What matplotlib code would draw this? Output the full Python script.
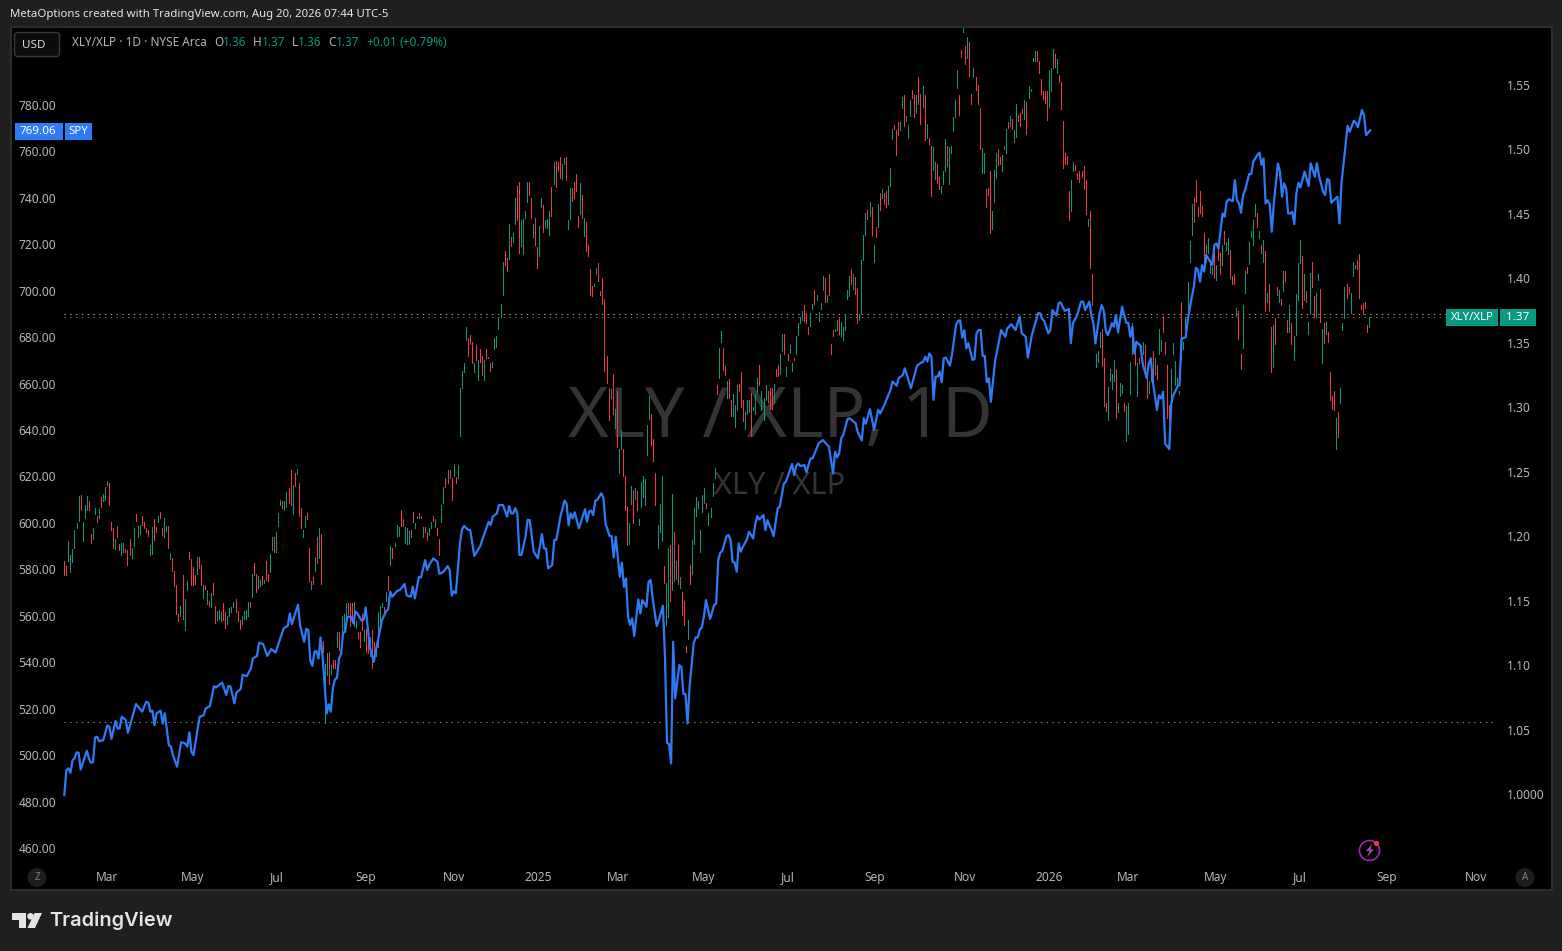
import numpy as np
import matplotlib
matplotlib.use("Agg")
import matplotlib.pyplot as plt
from matplotlib.patches import Rectangle, FancyBboxPatch, Circle, Polygon

# XLY/XLP daily bars as (open, close)
xly_part1 = [(1.181,1.170),(1.177,1.170),(1.181,1.196),(1.172,1.185),(1.180,1.190),(1.191,1.205),(1.206,1.210),(1.212,1.231),(1.232,1.220),(1.196,1.211),
(1.214,1.224),(1.220,1.231),(1.227,1.220),(1.202,1.195),(1.198,1.206),(1.217,1.222),(1.216,1.211),(1.214,1.221),(1.230,1.223),(1.227,1.233),
(1.228,1.238),(1.240,1.243),(1.241,1.224),(1.211,1.205),(1.206,1.191),(1.190,1.198),(1.208,1.199),(1.194,1.189),(1.185,1.195),(1.188,1.195),
(1.190,1.188),(1.189,1.178),(1.198,1.185),(1.183,1.191),(1.192,1.206),(1.217,1.212),(1.199,1.208),(1.202,1.209),(1.216,1.209),(1.211,1.206),
(1.206,1.203),(1.205,1.200),(1.185,1.193),(1.186,1.207),(1.213,1.197),(1.207,1.203),(1.211,1.216),(1.219,1.214),(1.206,1.201),(1.199,1.214),
(1.204,1.208),(1.208,1.191),(1.182,1.187),(1.183,1.173),(1.173,1.161),(1.162,1.140),(1.140,1.134),(1.138,1.146),(1.170,1.136),(1.127,1.151),
(1.158,1.165),(1.188,1.182),(1.182,1.162),(1.176,1.162),(1.170,1.163),(1.171,1.184),(1.184,1.175),(1.178,1.162),(1.152,1.162),(1.162,1.159),
(1.147,1.158),(1.150,1.146),(1.145,1.156),(1.164,1.154),(1.146,1.133),(1.135,1.142),(1.136,1.143),(1.134,1.141),(1.148,1.135),(1.141,1.129),
(1.132,1.138),(1.138,1.144),(1.141,1.145),(1.145,1.149),(1.151,1.141),(1.142,1.134),(1.135,1.128),(1.132,1.138),(1.136,1.142),(1.136,1.143),
(1.138,1.149),(1.149,1.145),(1.153,1.171),(1.179,1.170),(1.171,1.157),(1.160,1.169),(1.161,1.166),(1.169,1.163),(1.164,1.166),(1.181,1.166),
(1.171,1.165),(1.172,1.186),(1.189,1.199),(1.199,1.188),(1.188,1.203),(1.208,1.218),(1.224,1.228),(1.227,1.222),(1.220,1.227),(1.223,1.234),
(1.237,1.226),(1.251,1.224),(1.217,1.240),(1.249,1.239),(1.248,1.252),(1.241,1.216),(1.222,1.206),(1.199,1.205),(1.207,1.216),(1.218,1.213),
(1.191,1.165),(1.159,1.165),(1.168,1.163),(1.173,1.184),(1.199,1.179),(1.183,1.206),(1.202,1.163)]
xly_part2 = [(1.119,1.110),(1.055,1.101),(1.092,1.109),(1.110,1.085),(1.093,1.100),(1.104,1.098),(1.104,1.098),(1.114,1.126),(1.126,1.112),(1.120,1.138),
(1.126,1.140),(1.138,1.148),(1.148,1.140),(1.148,1.130),(1.148,1.135),(1.130,1.149),(1.129,1.134),(1.126,1.121),(1.126,1.114),(1.140,1.127),
(1.119,1.127),(1.128,1.110),(1.120,1.109),(1.107,1.122),(1.127,1.098),(1.118,1.107),(1.107,1.116),(1.114,1.141),(1.133,1.146),(1.145,1.148),
(1.145,1.140),(1.150,1.157),(1.169,1.158),(1.178,1.192),(1.191,1.183),(1.192,1.195),(1.200,1.209),(1.200,1.207),(1.220,1.208),(1.213,1.208),
(1.195,1.207),(1.194,1.206),(1.194,1.204),(1.205,1.199),(1.219,1.211),(1.206,1.210),(1.214,1.216),(1.218,1.214),(1.214,1.216),(1.199,1.207),
(1.207,1.203),(1.203,1.197),(1.201,1.206),(1.206,1.211),(1.216,1.212),(1.207,1.213),(1.206,1.201),(1.198,1.185),(1.211,1.224),(1.226,1.238),
(1.245,1.238),(1.251,1.241),(1.245,1.251),(1.245,1.228),(1.247,1.256),(1.246,1.241),(1.245,1.255)]
xly_part3 = [(1.278,1.315),(1.315,1.328),(1.327,1.334),(1.352,1.362),(1.354,1.340),(1.356,1.349),(1.351,1.334),(1.327,1.334),(1.348,1.337),(1.321,1.337),
(1.345,1.335),(1.340,1.325),(1.321,1.337),(1.345,1.338),(1.339,1.338),(1.334,1.328),(1.331,1.335),(1.345,1.354),(1.347,1.355),(1.361,1.370),
(1.370,1.380),(1.387,1.413),(1.421,1.410),(1.416,1.406),(1.415,1.442),(1.432,1.425),(1.428,1.435),(1.442,1.462),(1.472,1.445),(1.475,1.420),
(1.425,1.445),(1.419,1.446),(1.447,1.452),(1.459,1.475),(1.475,1.465),(1.462,1.447),(1.432,1.442),(1.447,1.426),(1.424,1.408),(1.417,1.441),
(1.455,1.462),(1.457,1.436),(1.440,1.445),(1.439,1.446),(1.434,1.452),(1.471,1.448),(1.473,1.490),(1.491,1.471),(1.490,1.484),(1.494,1.478),
(1.477,1.489),(1.489,1.493),(1.494,1.476),(1.438,1.445),(1.446,1.470),(1.470,1.460),(1.475,1.462),(1.481,1.468),(1.448,1.440),(1.450,1.474),
(1.465,1.447),(1.433,1.447),(1.444,1.421),(1.426,1.417),(1.407,1.387),(1.394,1.386),(1.394,1.396),(1.403,1.408),(1.412,1.398),(1.390,1.387),
(1.400,1.380),(1.384,1.328),(1.340,1.319),(1.315,1.290),(1.307,1.314),(1.326,1.295),(1.284,1.299),(1.313,1.269),(1.249,1.268),(1.268,1.282),
(1.268,1.247)]
xly_part4 = [(1.247,1.220),(1.223,1.193),(1.194,1.210),(1.225,1.239),(1.236,1.210),(1.229,1.237),(1.235,1.220),(1.209,1.213),(1.223,1.242),(1.230,1.247),
(1.224,1.244),(1.263,1.286),(1.291,1.309),(1.295,1.271),(1.275,1.258),(1.249,1.224),(1.191,1.209),(1.203,1.225),(1.196,1.247),(1.177,1.164),
(1.131,1.164),(1.137,1.191),(1.193,1.150),(1.158,1.233),(1.203,1.165),(1.167,1.181),(1.193,1.163),(1.160,1.168),(1.157,1.139),(1.150,1.131),
(1.115,1.110),(1.120,1.135),(1.178,1.163),(1.171,1.197),(1.194,1.222),(1.216,1.230),(1.222,1.227),(1.188,1.205),(1.219,1.232),(1.226,1.237),
(1.226,1.222),(1.209,1.218),(1.215,1.222),(1.231,1.241),(1.245,1.253)]
xly_part5 = [(1.317,1.310),(1.323,1.346),(1.351,1.359),(1.346,1.329),(1.332,1.325),(1.307,1.320),(1.322,1.307),(1.306,1.293),(1.293,1.310),(1.285,1.302),
(1.298,1.317),(1.318,1.313),(1.327,1.300),(1.306,1.289),(1.283,1.296),(1.295,1.306),(1.296,1.306),(1.311,1.278),(1.298,1.300),(1.295,1.310),
(1.312,1.323),(1.333,1.317),(1.298,1.313),(1.290,1.307),(1.306,1.317),(1.313,1.304),(1.315,1.299),(1.315,1.299),(1.303,1.318),(1.330,1.324),
(1.333,1.324),(1.326,1.341),(1.344,1.357),(1.357,1.341),(1.324,1.331),(1.341,1.337),(1.342,1.348),(1.328,1.334),(1.338,1.337),(1.341,1.355),
(1.356,1.365),(1.365,1.370),(1.368,1.375),(1.379,1.367),(1.373,1.365),(1.362,1.357),(1.363,1.373),(1.376,1.380),(1.391,1.380),(1.383,1.387),
(1.367,1.374),(1.376,1.381),(1.391,1.402),(1.400,1.382),(1.382,1.387),(1.403,1.387),(1.349,1.341),(1.360,1.355),(1.359,1.361),(1.360,1.368)]
xly_part6 = [(1.369,1.357),(1.355,1.366),(1.352,1.362),(1.360,1.372),(1.384,1.391),(1.386,1.402),(1.407,1.396),(1.392,1.403),(1.401,1.388),(1.392,1.365),
(1.368,1.372),(1.373,1.414),(1.414,1.434),(1.434,1.451),(1.453,1.446),(1.448,1.459),(1.455,1.434),(1.413,1.426),(1.440,1.432),(1.440,1.458),
(1.466,1.453),(1.462,1.469),(1.466,1.458),(1.468,1.455),(1.458,1.472),(1.472,1.486),(1.508,1.516),(1.519,1.516),(1.515,1.496),(1.521,1.511),
(1.515,1.521),(1.532,1.541),(1.542,1.518),(1.522,1.526),(1.509,1.519),(1.526,1.538),(1.546,1.540),(1.542,1.525),(1.528,1.542),(1.556,1.535),
(1.543,1.520),(1.533,1.549),(1.542,1.507),(1.509,1.520),(1.509,1.504),(1.503,1.464),(1.484,1.502),(1.477,1.490),(1.489,1.474),(1.479,1.469),
(1.466,1.472),(1.473,1.483),(1.483,1.508),(1.503,1.487),(1.473,1.502),(1.497,1.503),(1.514,1.525),(1.525,1.538),(1.548,1.562),(1.542,1.527),
(1.577,1.572),(1.591,1.595),(1.580,1.566),(1.571,1.587),(1.583,1.557),(1.543,1.535),(1.556,1.563),(1.556,1.546),(1.550,1.535),(1.532,1.500),
(1.482,1.501),(1.482,1.497),(1.469,1.455),(1.470,1.465),(1.483,1.435),(1.438,1.452),(1.459,1.484),(1.478,1.497),(1.500,1.488),(1.494,1.489),
(1.483,1.496),(1.500,1.503),(1.497,1.516),(1.521,1.517),(1.518,1.526),(1.524,1.516),(1.506,1.515),(1.510,1.535),(1.527,1.522),(1.528,1.518),
(1.531,1.528),(1.524,1.538),(1.537,1.512),(1.540,1.549),(1.545,1.547),(1.569,1.571),(1.569,1.576),(1.576,1.569),(1.569,1.559),(1.555,1.543),
(1.545,1.539),(1.545,1.536),(1.545,1.523),(1.533,1.562),(1.545,1.563),(1.563,1.578),(1.574,1.564),(1.559,1.570),(1.558,1.552),(1.552,1.531),
(1.522,1.486),(1.497,1.489),(1.495,1.489),(1.468,1.445),(1.452,1.476),(1.483,1.490),(1.488,1.484),(1.482,1.477),(1.483,1.475),(1.483,1.479),
(1.487,1.469),(1.476,1.450),(1.441,1.446),(1.452,1.408),(1.403,1.379)]
xly_part7 = [(1.356,1.351),(1.331,1.341),(1.335,1.344),(1.347,1.358),(1.361,1.332),(1.338,1.301),(1.303,1.297),(1.290,1.316),(1.320,1.330),(1.314,1.326),
(1.320,1.337),(1.330,1.292),(1.296,1.303),(1.309,1.319),(1.311,1.317),(1.303,1.297),(1.274,1.301),(1.279,1.303),(1.310,1.335),(1.341,1.365),
(1.351,1.333),(1.309,1.334),(1.338,1.334),(1.340,1.348),(1.341,1.351),(1.348,1.326),(1.326,1.307),(1.311,1.320),(1.320,1.338),(1.344,1.320),
(1.326,1.338),(1.333,1.322),(1.341,1.361),(1.344,1.352),(1.371,1.358),(1.351,1.341),(1.333,1.292),(1.302,1.289),(1.303,1.330),(1.341,1.350),
(1.317,1.336),(1.317,1.323),(1.310,1.313),(1.382,1.337),(1.345,1.351),(1.360,1.370),(1.373,1.397),(1.413,1.429),(1.434,1.458),(1.462,1.444),
(1.476,1.459),(1.455,1.448),(1.468,1.451),(1.456,1.448),(1.435,1.410),(1.413,1.426),(1.420,1.431),(1.404,1.414),(1.403,1.409),(1.424,1.400),
(1.399,1.410),(1.428,1.414),(1.420,1.403),(1.410,1.426),(1.437,1.427),(1.422,1.428),(1.419,1.431),(1.422,1.400),(1.402,1.396),(1.403,1.396),
(1.371,1.377),(1.375,1.353),(1.341,1.330),(1.346,1.379),(1.389,1.406),(1.409,1.404),(1.411,1.428),(1.432,1.437),(1.426,1.445),(1.448,1.458),
(1.451,1.440),(1.431,1.437),(1.426,1.420),(1.413,1.430),(1.421,1.375),(1.382,1.389),(1.396,1.375),(1.362,1.327),(1.331,1.364),(1.369,1.349),
(1.393,1.387),(1.382,1.391),(1.384,1.379),(1.390,1.406),(1.406,1.398),(1.368,1.358),(1.358,1.379),(1.365,1.349),(1.337,1.355),(1.356,1.388),
(1.383,1.412),(1.412,1.430),(1.417,1.377),(1.383,1.403),(1.390,1.382),(1.357,1.366),(1.372,1.404),(1.413,1.393),(1.386,1.370),(1.370,1.389),
(1.399,1.403),(1.392,1.366),(1.334,1.361),(1.365,1.350),(1.357,1.366),(1.358,1.351),(1.327,1.306),(1.309,1.299),(1.313,1.298),(1.268,1.292),
(1.296,1.277),(1.303,1.315),(1.360,1.365),(1.369,1.393),(1.396,1.385),(1.393,1.389),(1.373,1.389),(1.402,1.413),(1.408,1.410),(1.414,1.407),
(1.419,1.385),(1.379,1.376),(1.381,1.372),(1.382,1.377),(1.364,1.358),(1.362,1.370)]

# SPY closes as (bar number, close)
spy_part1 = [(0,482.8),(1,493.5),(2,494.3),(3,492.4),(4,497.8),(5,498.6),(6,501.2),(7,501.0),(8,493.8),(10,499.3),(11,501.9),(12,498.6),(13,496.7),(14,497.0),
(15,507.6),(16,507.9),(17,506.0),(19,506.4),(21,512.8),(22,512.2),(23,507.0),(25,514.7),(26,511.5),(27,511.5),(28,516.5),(30,515.1),(31,509.6),(35,522.0),
(38,518.7),(40,523.0),(41,522.6),(42,518.7),(43,519.1),(44,512.9),(45,518.0),(47,519.1),(48,513.6),(49,518.0),(51,504.3),(52,503.6),(53,500.0),(55,495.0),
(57,505.6),(59,505.0),(60,503.6),(61,509.8),(62,501.4),(63,500.0),(66,516.5),(68,517.2),(69,520.1),(71,521.1),(73,529.7),(74,529.1),(77,531.2),(79,525.9),
(80,529.7),(81,529.7),(83,522.3),(84,527.0),(86,528.4),(87,534.5),(89,534.0),(91,537.3),(92,541.7),(94,542.7),(95,548.4),(97,547.8),(99,542.7),(101,545.7),
(103,544.1),(104,546.7),(107,554.6),(109,555.7),(110,561.0),(111,556.4),(114,564.8),(115,556.0),(117,548.8),(118,554.4),(119,553.9),(120,540.9),(121,538.4),
(122,544.5),(123,544.8),(124,541.6),(125,550.7),(126,542.4),(128,517.9),(129,521.9),(130,518.7),(131,528.7),(132,532.6),(133,533.2),(134,541.6),(135,543.5),
(136,552.7),(137,553.1),(138,559.6),(140,559.6),(141,556.7),(142,561.8),(143,561.0),(145,557.9),(146,558.2),(147,563.6),(149,546.7),(151,540.2),(152,545.2),
(155,558.2),(157,562.0),(158,562.8),(159,570.4),(160,568.2),(162,570.4),(164,571.4),(165,572.5),(166,573.7),(167,568.8),(169,568.2),(170,572.5),(171,567.5),
(173,576.8),(174,576.5),(176,584.0),(177,579.7),(178,581.9),(180,584.7),(182,583.3),(183,578.0),(185,579.0),(187,581.4),(188,579.7),(189,568.7),(190,570.6),(191,569.7),(193,591.2)]
spy_part2 = [(194,597.2),(195,598.7),(197,597.0),(198,597.0),(200,585.8),(203,590.2),(204,593.0),(207,600.5),(208,599.1),(209,602.7),(211,604.1),(212,607.7),
(214,607.7),(216,602.7),(217,607.3),(218,604.1),(219,604.1),(220,606.4),(221,604.1),(222,586.2),(223,586.2),(225,594.1),(226,601.3),(227,601.3),(229,587.6),
(231,584.8),(233,595.2),(234,589.0),(235,589.0),(236,580.4),(238,581.9),(239,592.7),(240,592.7),(242,602.7),(244,609.6),(245,608.4),(246,599.1),(247,604.1),
(248,602.0),(249,604.6),(251,597.7),(254,605.9),(255,600.5),(256,604.9),(257,605.3),(258,603.4),(259,609.6),(260,609.9),(262,612.8),(263,610.6)]
spy_part3 = [(264,599.8),(266,594.3),(267,594.3),(268,585.2),(269,594.1),(271,576.8),(272,582.9),(273,572.5),(274,576.1),(275,559.6),(276,556.0),(277,558.9),
(278,551.3),(280,567.1),(281,561.0),(282,566.8),(284,563.9),(285,574.7),(286,575.4),(287,567.5),(289,555.6),(290,558.1),(292,564.3),(293,542.4),(294,505.3),
(295,504.7),(296,496.4),(297,548.8),(298,524.4),(300,538.8),(301,538.0),(302,526.3),(303,526.3),(304,513.6),(305,529.4),(307,548.1),(308,550.7),(309,550.7),
(310,554.1),(311,555.0),(312,559.6),(313,566.8),(315,558.6),(317,564.6),(318,565.3),(319,584.0),(320,587.2),(321,588.0),(323,594.3),(324,594.8),(325,592.6),
(326,583.3),(327,582.9),(328,579.0),(329,591.2),(330,587.6),(331,589.7),(333,592.9),(334,596.2),(336,593.3),(337,599.1),(338,603.0),(339,601.5),(341,603.4),
(342,596.9),(343,601.2),(345,596.9),(346,594.3),(348,606.3),(349,607.0),(350,612.0),(351,617.0),(352,617.7),(355,625.4),(356,620.6),(357,624.5),(358,625.6),
(359,624.5),(361,624.9),(362,621.8),(364,627.8),(365,627.8),(367,632.1),(368,634.3),(370,635.7),(373,632.8),(375,621.3),(376,630.7),(377,628.2)]
spy_part4 = [(378,630.0),(379,636.5),(380,637.9),(382,644.7),(383,645.1),(386,642.9),(387,639.3),(389,635.5),(390,645.1),(391,642.7),(392,645.8),(393,649.0),
(395,640.1),(397,648.7),(398,647.2),(400,650.8),(401,653.0),(403,657.3),(404,660.9),(406,659.1),(407,662.3),(409,663.7),(410,666.6),(413,658.0),(416,667.8),
(418,669.0),(419,669.5),(420,671.6),(421,669.5),(422,673.0),(423,671.6),(424,653.0),(425,663.0),(426,663.0),(427,665.2),(428,660.6),(429,670.9),(430,671.2),
(432,667.8),(433,672.4),(435,685.3),(436,687.0),(437,687.3),(438,679.8),(439,683.0),(440,675.2),(441,677.4),(443,670.2),(444,670.6),(445,681.7),(446,683.1),
(447,683.1),(448,671.9),(449,671.9),(450,660.6),(451,662.3),(452,652.2),(454,669.5),(457,683.1),(459,680.2),(460,683.8),(462,685.6),(464,683.1),(466,688.9),
(467,681.7),(469,680.2),(470,671.2),(472,681.0),(475,690.3),(476,690.3),(477,687.9),(478,687.0),(480,681.7),(481,683.1),(482,691.7),(484,689.3),(485,694.6),
(486,695.0),(488,691.3),(490,692.2),(491,677.4),(492,686.0),(494,689.3),(496,695.3)]
spy_part5 = [(497,695.3),(498,691.7),(500,695.3),(501,689.5),(502,686.0),(503,677.3),(505,690.2),(506,693.8),(507,691.7),(508,683.1),(509,680.9),(510,683.1),
(511,686.0),(512,684.5),(513,689.5),(514,682.1),(516,693.1),(518,686.2),(519,686.2),(520,680.2),(521,684.5),(522,673.0),(523,678.0),(525,676.2),(526,668.7),
(528,662.3),(529,668.7),(530,670.9),(531,660.8),(533,648.6),(534,655.0),(535,653.6),(536,656.5),(537,634.2),(539,631.8),(540,651.5),(541,655.0),(543,658.7),
(544,659.4),(545,679.5),(547,679.9),(548,687.4),(550,697.4),(551,701.7),(552,709.9),(553,708.9),(554,703.9),(555,711.0),(556,708.2),(557,715.4),(560,711.0),
(561,719.7),(562,720.4),(563,718.2),(565,733.3),(566,731.9),(567,738.4),(568,739.4),(570,738.6),(571,747.7),(572,739.0),(573,737.6),(574,733.6),(575,741.2),
(576,743.4),(578,750.3),(579,750.3),(580,755.6),(582,758.5),(583,759.5),(584,754.2),(585,757.0),(586,737.6),(587,739.0),(588,737.3),(589,725.4),(590,737.6),
(592,754.9),(593,751.3),(594,740.5),(595,746.3),(596,744.1),(597,733.3),(598,733.3),(599,734.0),(600,728.7),(601,741.9),(602,746.5),(603,744.5),(605,751.3),
(607,745.1),(608,754.9),(610,749.1),(611,754.9),(612,749.8),(614,742.7),(615,741.2),(616,748.1),(617,747.7),(618,737.9),(621,740.5),(622,729.0),(623,746.3),
(626,771.0),(627,768.5),(629,773.2),(630,772.4),(631,770.4),(633,777.8),(634,775.7),(635,767.0),(637,769.06)]

spy_ticks = list(range(460, 781, 20))
xly_ticks = [1.0, 1.05, 1.10, 1.15, 1.20, 1.25, 1.30, 1.35, 1.40, 1.45, 1.50, 1.55]
xly_tick_labels = ["1.0000", "1.05", "1.10", "1.15", "1.20", "1.25", "1.30", "1.35", "1.40", "1.45", "1.50", "1.55"]
time_ticks = [20.8, 62.8, 103.8, 147.2, 190, 231, 270, 312, 353, 395.4, 439.3, 480.2, 518.8, 561.7, 602.7, 645, 688.6]
time_labels = ["Mar", "May", "Jul", "Sep", "Nov", "2025", "Mar", "May", "Jul", "Sep", "Nov", "2026", "Mar", "May", "Jul", "Sep", "Nov"]
xly_last = 1.37
spy_last = 769.06
spy_prev_level = 1.0555
xly_prev_level = 1.372

FONT = "Noto Sans"
plt.rcParams["font.family"] = [FONT, "DejaVu Sans"]
BG, PANE, BORDER = "#1f1f1f", "#000000", "#2e2e2e"
GREY, UP, DOWN, BLUE = "#b2b5be", "#089981", "#f23645", "#2f7bf5"

W, H = 1562, 951
fig = plt.figure(figsize=(W / 100, H / 100), dpi=100, facecolor=BG)
L, R, T, B = 11, 1552, 27, 890
ax_r = fig.add_axes([L / W, 1 - B / H, (R - L) / W, (B - T) / H], facecolor=PANE)
ax = ax_r.twinx()
ax_r.yaxis.tick_right()
ax.yaxis.tick_left()
ax.set_zorder(ax_r.get_zorder() + 1)
ax.patch.set_visible(False)

xlim = (-26, 725.7)
ax_r.set_xlim(*xlim)
ax_r.set_ylim(0.9255, 1.595)
ax.set_ylim(441.9, 813.6)

bars = xly_part1 + xly_part2 + xly_part3 + xly_part4 + xly_part5 + xly_part6 + xly_part7
o = np.array([b[0] for b in bars])
c = np.array([b[1] for b in bars])
pos = np.arange(len(bars)) * (636.4 / (len(bars) - 1))
ax_r.vlines(pos, np.minimum(o, c), np.maximum(o, c), colors=[UP if ci >= oi else DOWN for oi, ci in zip(o, c)],
            linewidth=0.72, antialiased=False, zorder=3)

ax_r.text(780 / W, 1 - 419 / H, "XLY / XLP, 1D", transform=fig.transFigure, color="#343434", fontsize=50,
          ha="center", va="center", zorder=1)
ax_r.text(780 / W, 1 - 486 / H, "XLY / XLP", transform=fig.transFigure, color="#343434", fontsize=22,
          ha="center", va="center", zorder=1)

ax_r.plot([0, 675], [xly_prev_level] * 2, color="#ff9800", lw=0.8, ls=(0, (1.2, 4)), zorder=2)
ax_r.plot([0, 675], [xly_last] * 2, color=UP, lw=0.8, ls=(0, (1.2, 4)), zorder=2)
ax_r.plot([0, 699], [spy_prev_level] * 2, color="#8a8a8a", lw=0.8, ls=(0, (1.2, 4)), zorder=2)

spy = spy_part1 + spy_part2 + spy_part3 + spy_part4 + spy_part5
ax.plot([p[0] for p in spy], [p[1] for p in spy], color=BLUE, lw=1.6, solid_joinstyle="round", zorder=5)

ax.set_yticks(spy_ticks, [f"{v:.2f}" for v in spy_ticks])
ax_r.set_yticks(xly_ticks, xly_tick_labels)
ax_r.set_xticks(time_ticks, time_labels)
ax.tick_params(axis="y", length=0, pad=-32.4, labelsize=8.6, labelcolor=GREY)
ax_r.tick_params(axis="y", length=0, pad=-32.4, labelsize=8.6, labelcolor=GREY)
ax_r.tick_params(axis="x", length=0, pad=-13.7, labelsize=8.6, labelcolor=GREY)
for lab in ax_r.get_xticklabels():
    if lab.get_text() in ("2025", "2026"):
        lab.set_fontweight("bold")
for s in list(ax.spines.values()) + list(ax_r.spines.values()):
    s.set_color(BORDER)
    s.set_linewidth(1.4)

ov = fig.add_axes([0, 0, 1, 1], zorder=20)
ov.set_xlim(0, W)
ov.set_ylim(H, 0)
ov.axis("off")

ov.text(10, 14.5, "MetaOptions created with TradingView.com, Aug 20, 2026 07:44 UTC-5", color="#e6e6e6",
        fontsize=8.2, fontweight="semibold", va="center")
ov.add_patch(FancyBboxPatch((14.5, 32.5), 45, 24, boxstyle="round,pad=0,rounding_size=3", fc="#0c0c0c", ec="#3a3a3a", lw=1))
ov.text(34, 45, "USD", color="#d8d8d8", fontsize=8.4, ha="center", va="center")

ov.text(72, 42.5, "XLY/XLP · 1D · NYSE Arca", color=GREY, fontsize=8.5, va="center")
for x, s, col in [(214, "O", GREY), (223, "1.36", UP), (253, "H", GREY), (262, "1.37", UP), (292, "L", GREY),
                  (298, "1.36", UP), (328, "C", GREY), (336, "1.37", UP), (366, "+0.01", UP), (400, "(+0.79%)", UP)]:
    ov.text(x, 42.5, s, color=col, fontsize=8.5, va="center")

ov.add_patch(Rectangle((15, 123), 48, 16.5, fc=BLUE, ec="none"))
ov.add_patch(Rectangle((64.5, 123), 27.5, 16.5, fc=BLUE, ec="none"))
ov.text(19, 132, f"{spy_last:.2f}", color="white", fontsize=8.4, va="center", fontweight="semibold")
ov.text(68, 132, "SPY", color="white", fontsize=8.2, va="center", fontweight="semibold")
ov.add_patch(Rectangle((1446, 309), 52, 17, fc=UP, ec="none"))
ov.add_patch(Rectangle((1499.5, 309), 36.5, 17, fc=UP, ec="none"))
ov.text(1472, 318, "XLY/XLP", color="white", fontsize=8.2, va="center", ha="center", fontweight="semibold")
ov.text(1518, 318, f"{xly_last:.2f}", color="white", fontsize=8.4, va="center", ha="center", fontweight="semibold")

for x, s in [(37, "Z"), (1525, "A")]:
    ov.add_patch(Circle((x, 877.5), 9.5, fc="#1e1e1e", ec="none"))
    ov.text(x, 877.5, s, color="#7d7d7d", fontsize=7.2, ha="center", va="center")

ov.add_patch(Circle((1369.5, 850.5), 10, fc="none", ec="#9c27b0", lw=1.2))
ov.add_patch(Polygon([(1372, 844), (1366, 851), (1369.5, 851), (1367, 857), (1374, 849.5), (1370.5, 849.5)], fc="#ab47bc", ec="none"))
ov.add_patch(Circle((1376.5, 843.5), 2.6, fc="#f23645", ec="none"))

LOGO = "#e4e4e4"
ov.add_patch(Polygon([(12, 913), (25.5, 913), (25.5, 928), (19, 928), (19, 919.5), (12, 919.5)], fc=LOGO, ec="none"))
ov.add_patch(Circle((30.5, 916.3), 3.3, fc=LOGO, ec="none"))
ov.add_patch(Polygon([(34.5, 913), (42, 913), (35, 928), (27.5, 928)], fc=LOGO, ec="none"))
ov.text(49, 921, "TradingView", color=LOGO, fontsize=14.4, fontfamily="Inter", fontweight="semibold", va="center")

fig.savefig("out.png", dpi=100, facecolor=BG)
